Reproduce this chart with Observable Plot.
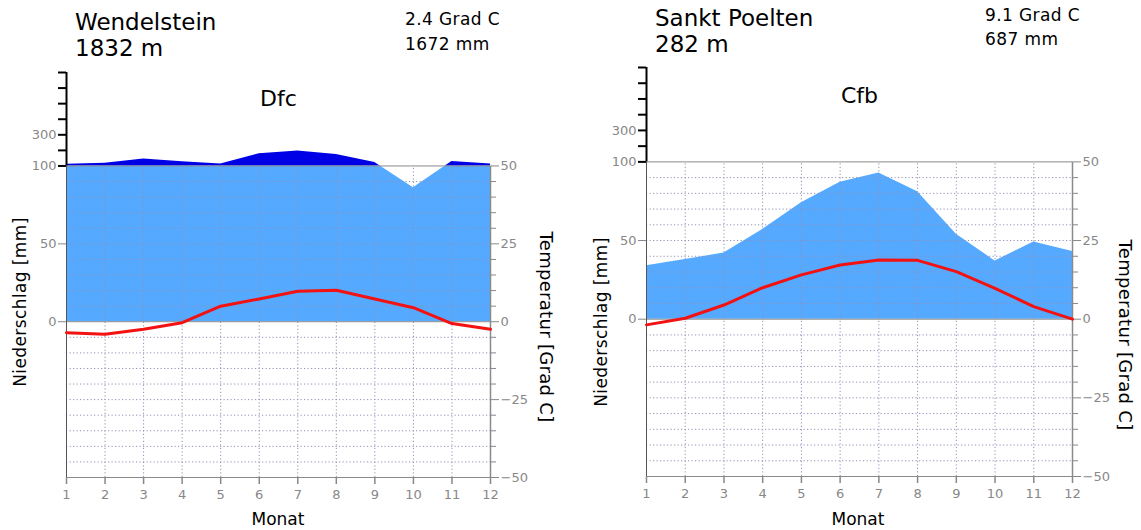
<!DOCTYPE html>
<html><head><meta charset="utf-8">
<script src="https://cdn.jsdelivr.net/npm/d3@7"></script>
<script src="https://cdn.jsdelivr.net/npm/@observablehq/plot@0.6"></script>
<style>
body{margin:0;background:#fff;font-family:"DejaVu Sans",sans-serif;}
#root{position:relative;width:1141px;height:530px;overflow:hidden;background:#fff;}
.t{position:absolute;white-space:nowrap;line-height:1;color:#000;}
.rot{transform:translate(-50%,-50%) rotate(-90deg);}
.rot2{transform:translate(-50%,-50%) rotate(90deg);}
.ctr{transform:translate(-50%,-50%);}
.panel{position:absolute;top:0;}
</style></head><body><div id="root"></div>
<script>
// ---- data ----
const months = [1,2,3,4,5,6,7,8,9,10,11,12];
const wendelsteinPrecip = [111,118,144,127,113,178,196,173,122,86,129,113];
const wendelsteinTemp = [-3.5,-4.0,-2.4,-0.3,5.0,7.3,9.8,10.1,7.3,4.5,-0.6,-2.4];
const poeltenPrecip = [34,38,42,57,74,87,93,81,54,37,49,43];
const poeltenTemp = [-1.8,0.3,4.5,10.0,14.1,17.2,18.8,18.7,15.1,9.8,4.0,0.0];
const upperTicks = [100,200,300,400,500,600,700];
const upperLabels = [100,300];
const precipTicks = [0,50];
const tempTicks = [-50,-45,-40,-35,-30,-25,-20,-15,-10,-5,0,5,10,15,20,25,30,35,40,45,50];
const tempLabels = [-50,-25,0,25,50];
const mmPerDegree = 2;          // 10 °C = 20 mm
const precipMin = -100, precipBreak = 100, precipMax = 700;
const upperReduction = 10;      // above 100 mm the scale is reduced 1:10
const reduce = p => p <= precipBreak ? p : precipBreak + (p - precipBreak) / upperReduction;

const root = document.getElementById("root");
function label(text, x, y, size, cls, spacing) {
  const d = document.createElement("div");
  d.className = "t " + (cls || "");
  d.textContent = text;
  d.style.left = x + "px"; d.style.top = y + "px"; d.style.fontSize = size + "px";
  if (spacing) d.style.letterSpacing = spacing + "px";
  root.appendChild(d);
  return d;
}
const fmt = v => (v < 0 ? "\u2212" : "") + Math.abs(v);

function panel({id, precip, temp, climate, left, width, marginRight, marginTop, marginBottom, climateDy}) {
  const data = months.map((m, i) => ({m, p: precip[i], t: temp[i]}));
  const grid = tempTicks.filter(t => t % 50 !== 0).map(t => t * mmPerDegree);
  const dotted = {stroke: "#9090b8", strokeDasharray: "1.2,2.3", strokeWidth: 1};
  const chart = Plot.plot({
    width, height: 530,
    marginLeft: 66, marginRight, marginTop, marginBottom,
    style: {fontFamily: "DejaVu Sans", fontSize: "13px", background: "white", color: "#000"},
    x: {domain: [1, 12], axis: null, label: null},
    y: {domain: [precipMin, reduce(precipMax)], axis: null, label: null},
    marks: [
      Plot.areaY(data, {x: "m", y1: 0, y2: d => reduce(d.p), fill: "#55aaff"}),
      Plot.areaY(data, {x: "m", y1: 0, y2: d => reduce(d.p), fill: "#0000e6"}),
      Plot.ruleY(grid, dotted),
      Plot.ruleX(months.slice(1, -1), {y1: precipMin, y2: precipBreak, ...dotted}),
      Plot.ruleY([precipMin, 0, precipBreak], {stroke: "#8a8a8a"}),
      Plot.ruleX([1], {y1: precipMin, y2: precipBreak, stroke: "#555"}),
      Plot.ruleX([12], {y1: precipMin, y2: precipBreak, stroke: "#8a8a8a", strokeWidth: 1.5}),
      Plot.ruleX([1], {y1: precipBreak, y2: reduce(precipMax), stroke: "#000", strokeWidth: 2}),
      Plot.axisY(upperTicks.map(reduce), {anchor: "left", label: null, tickSize: 8, strokeWidth: 2,
        color: "#000", tickFormat: () => ""}),
      Plot.axisY(upperTicks.map(reduce), {anchor: "left", label: null, tickSize: 8, tickPadding: 2,
        strokeOpacity: 0, fill: "#888", stroke: "#888",
        tickFormat: (d, i) => upperLabels.includes(upperTicks[i]) ? String(upperTicks[i]) : ""}),
      Plot.axisY(precipTicks, {anchor: "left", label: null, tickSize: 8, tickPadding: 2, stroke: "#888", fill: "#888",
        tickFormat: d => String(d)}),
      Plot.axisY(tempTicks.filter(t => !tempLabels.includes(t)).map(t => t * mmPerDegree),
        {anchor: "right", label: null, tickSize: 5, stroke: "#888", tickFormat: () => ""}),
      Plot.axisY(tempLabels.map(t => t * mmPerDegree), {anchor: "right", label: null, tickSize: 8, tickPadding: 2,
        stroke: "#888", fill: "#888", tickFormat: d => fmt(d / mmPerDegree)}),
      Plot.axisX(months, {anchor: "bottom", label: null, tickSize: 7, tickPadding: 5, stroke: "#888", fill: "#888",
        strokeWidth: 1.5, tickFormat: d => String(d)}),
      Plot.line(data, {x: "m", y: d => d.t * mmPerDegree, stroke: "#f21212", strokeWidth: 3}),
      Plot.text([climate], {frameAnchor: "top", dy: climateDy, lineAnchor: "middle", fontSize: 22, fill: "#000"})
    ]
  });
  // clip the two precipitation areas at the scale break
  const ns = "http://www.w3.org/2000/svg";
  const cut = chart.scale("y").apply(precipBreak);
  const defs = document.createElementNS(ns, "defs");
  function clip(cid, y0, h) {
    const cp = document.createElementNS(ns, "clipPath");
    cp.setAttribute("id", cid);
    const r = document.createElementNS(ns, "rect");
    r.setAttribute("x", 0); r.setAttribute("y", y0);
    r.setAttribute("width", width); r.setAttribute("height", h);
    cp.appendChild(r); defs.appendChild(cp);
  }
  clip(id + "-below", cut, 530 - cut);
  clip(id + "-above", 0, cut);
  chart.insertBefore(defs, chart.firstChild);
  const areas = chart.querySelectorAll('g[aria-label="area"]');
  if (areas.length >= 2) {
    areas[0].setAttribute("clip-path", `url(#${id}-below)`);
    areas[1].setAttribute("clip-path", `url(#${id}-above)`);
  }
  chart.classList.add("panel");
  chart.style.left = left + "px";
  root.appendChild(chart);
}

panel({id: "wen", precip: wendelsteinPrecip, temp: wendelsteinTemp, climate: "Dfc",
  left: 0, width: 570, marginRight: 80, marginTop: 72, marginBottom: 53, climateDy: 26});
panel({id: "stp", precip: poeltenPrecip, temp: poeltenTemp, climate: "Cfb",
  left: 580, width: 561, marginRight: 69, marginTop: 67, marginBottom: 54, climateDy: 28});

// titles
label("Wendelstein", 75, 11, 23);
label("1832 m", 75, 37, 23);
label("2.4 Grad C", 405, 11, 17, "", 0.4);
label("1672 mm", 405, 36, 17, "", 0.4);
label("Sankt Poelten", 655, 7, 23);
label("282 m", 655, 33, 23);
label("9.1 Grad C", 985, 7, 17, "", 0.4);
label("687 mm", 985, 31, 17, "", 0.4);
// axis titles
label("Niederschlag [mm]", 20, 302, 17, "rot", 0.4);
label("Temperatur  [Grad C]", 546, 327, 18, "rot2", 0.3);
label("Monat", 278, 519, 17, "ctr");
label("Niederschlag [mm]", 601, 322, 17, "rot", 0.4);
label("Temperatur  [Grad C]", 1125, 335, 18, "rot2", 0.3);
label("Monat", 858, 519, 17, "ctr");
</script></body></html>
